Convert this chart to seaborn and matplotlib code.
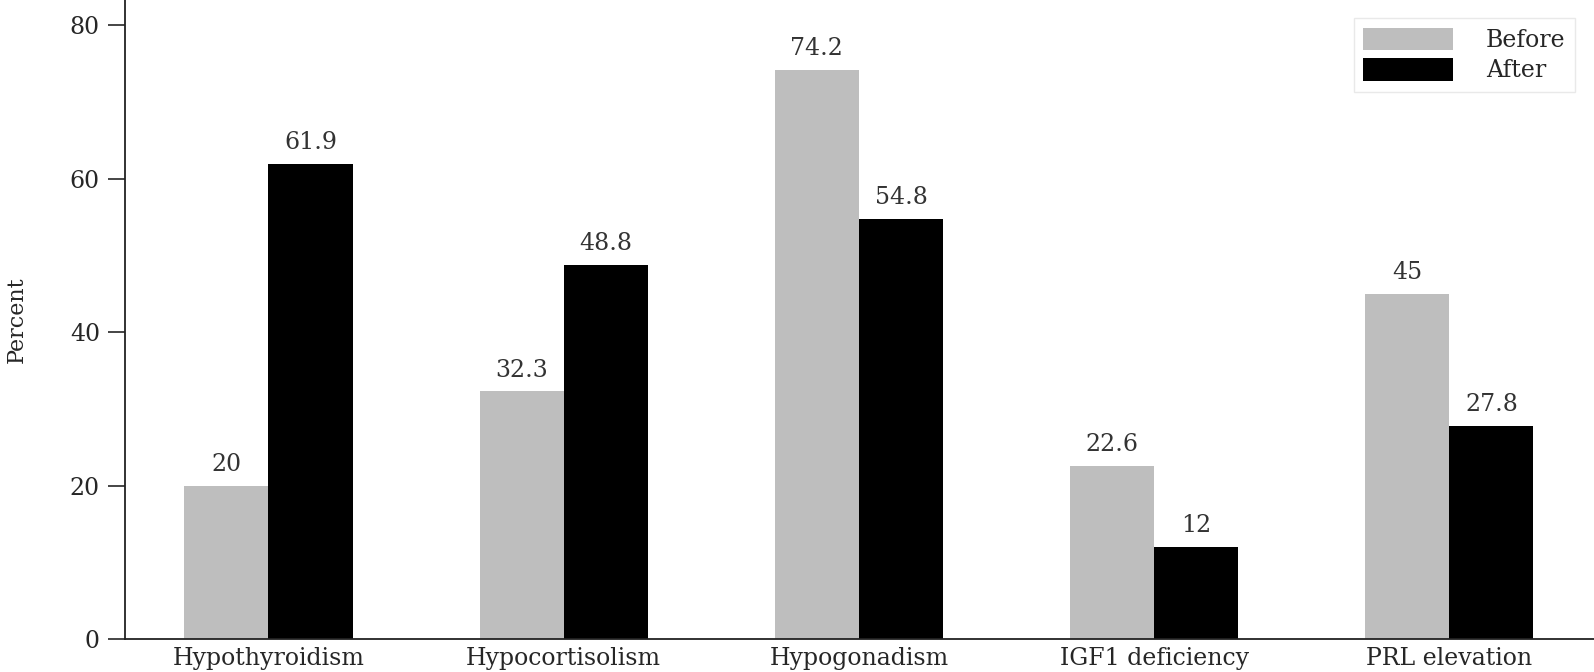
import pandas as pd
import matplotlib.pyplot as plt
import seaborn as sns

# Data
categories = ['Hypothyroidism', 'Hypocortisolism', 'Hypogonadism', 'IGF1 deficiency', 'PRL elevation']
before = [20, 32.3, 74.2, 22.6, 45]
after = [61.9, 48.8, 54.8, 12, 27.8]
groups = ['Before', 'After']

df = pd.DataFrame({
    'condition': categories * 2,
    'group': ['Before'] * len(categories) + ['After'] * len(categories),
    'percent': before + after,
})

sns.set_theme(style='ticks')
plt.rcParams['font.family'] = ['DejaVu Serif']

fig = plt.figure(figsize=(15.94, 6.72), dpi=100)
ax = fig.add_axes([0.0784, 0.049, 0.9216, 0.951])

sns.barplot(data=df, x='condition', y='percent', hue='group', hue_order=groups,
            palette=['#bebebe', '#000000'], width=0.57, saturation=1,
            linewidth=0, ax=ax)

for cont in ax.containers:
    ax.bar_label(cont, labels=['%g' % b.get_height() for b in cont],
                 padding=7, fontsize=17, color='#333333')

ax.set_ylim(0, 83.3)
ax.set_xlim(-0.486, 4.49)
ax.set_yticks([0, 20, 40, 60, 80])
ax.set_xlabel('')
ax.set_ylabel('Percent', fontsize=16, labelpad=30)
ax.tick_params(axis='y', labelsize=17, length=12, width=1.2, pad=6)
ax.tick_params(axis='x', labelsize=17, length=0, pad=6)
sns.despine(ax=ax)
for s in ['left', 'bottom']:
    ax.spines[s].set_linewidth(1.3)
    ax.spines[s].set_color('#222222')

leg = ax.legend(loc='upper right', bbox_to_anchor=(0.995, 0.99), fontsize=17,
                frameon=True, fancybox=False, handlelength=3.8, handleheight=1.1,
                borderpad=0.4, labelspacing=0.25, handletextpad=1.4)
leg.get_frame().set_edgecolor('#e4e4e4')
leg.get_frame().set_linewidth(1)

plt.savefig('out.png', dpi=100)
